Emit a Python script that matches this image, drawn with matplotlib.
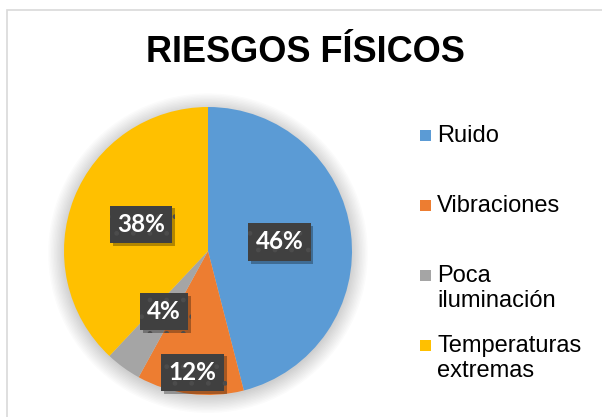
import numpy as np
import matplotlib.pyplot as plt
import matplotlib.patheffects as pe
from matplotlib.patches import Rectangle, Circle

# chart data
categories = ["Ruido", "Vibraciones", "Poca\niluminación", "Temperaturas\nextremas"]
values = [46, 12, 4, 38]
colors = ["#5B9BD5", "#ED7D31", "#A5A5A5", "#FFC000"]
# how far from the centre each label sits (fraction of radius)
label_dist = [0.5, 0.85, 0.52, 0.5]

W, H = 602, 417
fig = plt.figure(figsize=(W / 100, H / 100), dpi=100)
fig.patch.set_facecolor("white")

# chart area border (only left and top edges are in view)
fig.add_artist(Rectangle((7 / W, -0.1), 1.2, (H - 10) / H + 0.1,
                         transform=fig.transFigure, fill=False,
                         edgecolor="#d9d9d9", linewidth=1.2))

fig.text(305 / W, 1 - 53 / H, "RIESGOS FÍSICOS", ha="center", va="center",
         fontsize=26, fontweight="bold", family="Liberation Sans", color="black")

# pie axes: centre (208, 251), radius 144 px
cx, cy, r = 208, 251, 144
ax = fig.add_axes([(cx - r) / W, (H - cy - r) / H, 2 * r / W, 2 * r / H])

# soft shadow around the pie
for i in range(12):
    ax.add_patch(Circle((0, -0.015), 1.0 + 0.01 * i, color="#000000",
                        alpha=0.015, zorder=0, linewidth=0, clip_on=False))

wedges, _ = ax.pie(values, colors=colors, startangle=90, counterclock=False,
                   radius=1, wedgeprops=dict(linewidth=0, zorder=1))
ax.set_xlim(-1, 1)
ax.set_ylim(-1, 1)
ax.set_aspect("equal")
ax.axis("off")

for w, v, d in zip(wedges, values, label_dist):
    ang = np.deg2rad((w.theta1 + w.theta2) / 2)
    t = ax.text(d * np.cos(ang), d * np.sin(ang), f"{v}%", ha="center", va="center",
                fontsize=17.5, fontweight="bold", family="Lato", color="white", zorder=5,
                bbox=dict(boxstyle="square,pad=0.3", facecolor="#404040",
                          edgecolor="#4c4c4c", linewidth=0, hatch="."))
    t.get_bbox_patch().set_path_effects(
        [pe.SimplePatchShadow(offset=(2, -2), shadow_rgbFace="black", alpha=0.3),
         pe.Normal()])

# legend drawn by hand so the square lines up with the first text line
leg_x, leg_y, step = 420, 135, 70
for i, (lab, col) in enumerate(zip(categories, colors)):
    y = leg_y + i * step
    fig.add_artist(Rectangle((leg_x / W, 1 - (y + 5.5) / H), 11 / W, 11 / H,
                             transform=fig.transFigure, facecolor=col,
                             edgecolor="none"))
    fig.text(437 / W, 1 - (y - 10) / H, lab, ha="left", va="top",
             fontsize=17, family="Liberation Sans", color="black",
             linespacing=1.15)

fig.savefig("out.png", dpi=100)
